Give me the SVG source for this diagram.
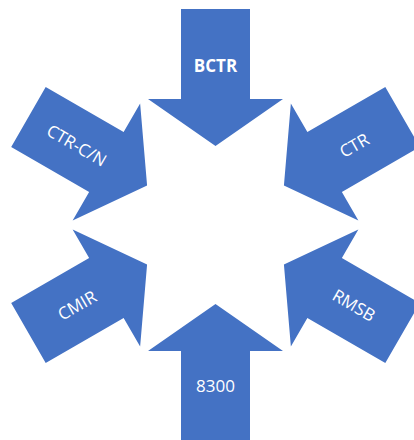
<svg xmlns="http://www.w3.org/2000/svg" width="414" height="440" viewBox="0 0 414 440">
<style>
.a{fill:#4472C4;stroke:none}
.t{fill:#FFFFFF;font-family:"Open Sans","Noto Sans",sans-serif;font-size:17px;text-anchor:middle;dominant-baseline:central}
.b{font-weight:bold}
</style>
<defs>
<path id="arr" d="M -34.5,-216 L 34.5,-216 L 34.5,-126 L 67.5,-126 L 0,-79 L -67.5,-126 L -34.5,-126 Z"/>
</defs>
<rect width="414" height="440" fill="#FFFFFF"/>
<g transform="translate(215.5,225)">
<g id="bctr"><use href="#arr" class="a"/><text class="t b" x="0" y="-160">BCTR</text></g>
<g id="ctr"><use href="#arr" class="a" transform="rotate(60)"/><text class="t" x="0" y="0" transform="rotate(60) translate(0,-160) rotate(-90)">CTR</text></g>
<g id="rmsb"><use href="#arr" class="a" transform="rotate(120)"/><text class="t" x="0" y="0" transform="translate(138.6,80) rotate(30)">RMSB</text></g>
<g id="n8300"><use href="#arr" class="a" transform="rotate(180)"/><text class="t" x="0" y="160">8300</text></g>
<g id="cmir"><use href="#arr" class="a" transform="rotate(240)"/><text class="t" x="0" y="0" transform="translate(-138.6,80) rotate(-30)">CMIR</text></g>
<g id="ctrcn"><use href="#arr" class="a" transform="rotate(300)"/><text class="t" x="0" y="0" transform="translate(-138.6,-80) rotate(30)">CTR-C/N</text></g>
</g>
<g id="connectors"/>
</svg>
